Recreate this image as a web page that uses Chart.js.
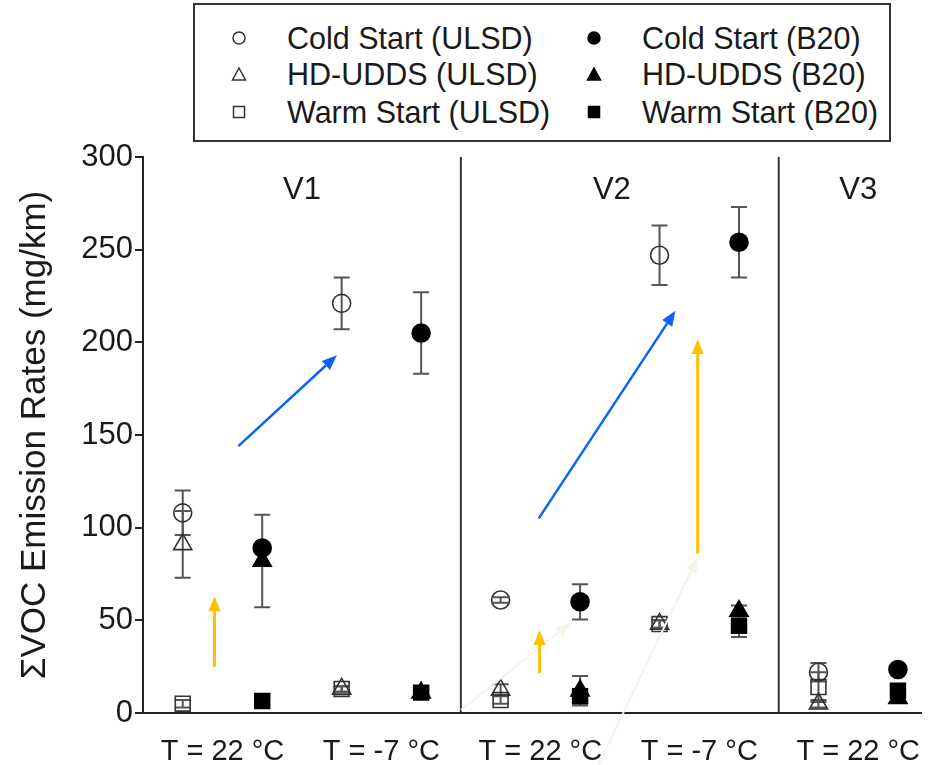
<!DOCTYPE html>
<html>
<head>
<meta charset="utf-8">
<title>VOC emission rates</title>
<script src="https://cdn.jsdelivr.net/npm/chart.js@4.4.1/dist/chart.umd.min.js"></script>
<style>
  body { margin: 0; background: #fff; font-family: "Liberation Sans", Arial, sans-serif; }
  #wrap { position: relative; width: 935px; height: 765px; }
  #legend { position: absolute; left: 193px; top: 3px; width: 694px; height: 135px; border: 2px solid #333; background: #fff; }
  .item { position: absolute; font-size: 30.5px; color: #1a1a1a; line-height: 34px; white-space: nowrap; }
  .item svg { position: absolute; left: -56px; top: 9px; }
</style>
</head>
<body>
<div id="wrap">
  <canvas id="vocChart" width="935" height="765"></canvas>
  <div id="legend"></div>
</div>
<script>
// test conditions (x groups), two fuels per group: ULSD then B20
const conditions = ['T = 22 °C', 'T = -7 °C', 'T = 22 °C', 'T = -7 °C', 'T = 22 °C'];
const vehicles = ['V1', 'V2', 'V3'];
const vehicleCenters = [1.5, 5.4, 8.5];
const panelBreaks = [3.5, 7.5];
const yTicks = [0, 50, 100, 150, 200, 250, 300];

// values (mg/km) per condition group, and +/- error
const coldULSD    = [108, 221, 61, 247, 22];
const coldULSDErr = [12, 14, 1.5, 16, 5];
const coldB20     = [89, 205, 60, 254, 23.5];
const coldB20Err  = [2, 22, 9.5, 19, 1.5];
const hdULSD      = [91, 13, 12.5, 48, 5];
const hdULSDErr   = [18, 1.5, 3, 2, 2];
const hdB20       = [82, 11, 12, 55, 8];
const hdB20Err    = [25, 1.5, 8, 3, 2];
const warmULSD    = [5, 13, 7, 48, 14];
const warmULSDErr = [2, 1.5, 2, 2, 8];
const warmB20     = [6.5, 11, 9, 47, 12];
const warmB20Err  = [2, 1.5, 3, 6, 3];

// hand-drawn arrows on the original figure, in data units [x0, y0, x1, y1]
const blueArrows = [[0.70, 144, 1.94, 193], [4.48, 105, 6.20, 217]];
const yellowArrows = [[0.40, 25, 0.40, 63], [4.49, 21.6, 4.49, 44.8], [6.48, 86, 6.48, 201.8]];
const faintArrows = [[3.50, 1.6, 4.88, 48.6], [5.23, -28, 6.48, 84]];

function series(label, values, errors, fuel, style, filled, radius) {
    return {
        label: label,
        data: values.map((v, g) => ({ x: g * 2 + fuel, y: v })),
        errors: errors,
        pointStyle: style,
        pointRadius: radius,
        pointHoverRadius: radius,
        backgroundColor: filled ? '#000' : 'rgba(255,255,255,0)',
        borderColor: filled ? '#000' : '#333',
        borderWidth: 1.6,
        showLine: false
    };
}

const datasets = [
    series('Cold Start (ULSD)', coldULSD, coldULSDErr, 0, 'circle', false, 9),
    series('Cold Start (B20)', coldB20, coldB20Err, 1, 'circle', true, 9),
    series('HD-UDDS (ULSD)', hdULSD, hdULSDErr, 0, 'triangle', false, 10.5),
    series('HD-UDDS (B20)', hdB20, hdB20Err, 1, 'triangle', true, 10.5),
    series('Warm Start (ULSD)', warmULSD, warmULSDErr, 0, 'rect', false, 10.5),
    series('Warm Start (B20)', warmB20, warmB20Err, 1, 'rect', true, 10.5)
];

function drawArrow(ctx, x0, y0, x1, y1, color, width) {
    const ang = Math.atan2(y1 - y0, x1 - x0);
    const len = 15, half = 6;
    const bx = x1 - Math.cos(ang) * len, by = y1 - Math.sin(ang) * len;
    ctx.strokeStyle = color;
    ctx.fillStyle = color;
    ctx.lineWidth = width;
    ctx.beginPath();
    ctx.moveTo(x0, y0);
    ctx.lineTo(bx, by);
    ctx.stroke();
    ctx.beginPath();
    ctx.moveTo(x1, y1);
    ctx.lineTo(bx + Math.sin(ang) * half, by - Math.cos(ang) * half);
    ctx.lineTo(bx - Math.sin(ang) * half, by + Math.cos(ang) * half);
    ctx.closePath();
    ctx.fill();
}

const decor = {
    id: 'decor',
    beforeDatasetsDraw(chart) {
        const { ctx, chartArea, scales: { x, y } } = chart;
        ctx.save();
        ctx.strokeStyle = '#333';
        ctx.lineWidth = 2;
        panelBreaks.forEach(b => {
            const px = x.getPixelForValue(b);
            ctx.beginPath();
            ctx.moveTo(px, chartArea.top);
            ctx.lineTo(px, chartArea.bottom);
            ctx.stroke();
        });
        // error bars
        ctx.strokeStyle = '#555';
        ctx.lineWidth = 2;
        chart.data.datasets.forEach(ds => {
            ds.data.forEach((p, i) => {
                const e = ds.errors[i];
                if (!e) return;
                const px = x.getPixelForValue(p.x);
                const top = y.getPixelForValue(p.y + e);
                const bot = y.getPixelForValue(Math.max(p.y - e, 0));
                ctx.beginPath();
                ctx.moveTo(px, top); ctx.lineTo(px, bot);
                ctx.moveTo(px - 8, top); ctx.lineTo(px + 8, top);
                ctx.moveTo(px - 8, bot); ctx.lineTo(px + 8, bot);
                ctx.stroke();
            });
        });
        ctx.restore();
    },
    afterDatasetsDraw(chart) {
        const { ctx, scales: { x, y } } = chart;
        ctx.save();
        ctx.fillStyle = '#1a1a1a';
        ctx.font = '31px "Liberation Sans", Arial, sans-serif';
        ctx.textAlign = 'center';
        ctx.textBaseline = 'middle';
        vehicles.forEach((v, i) => {
            ctx.fillText(v, x.getPixelForValue(vehicleCenters[i]), y.getPixelForValue(282));
        });
        ctx.restore();
    },
    afterDraw(chart) {
        const { ctx, scales: { x, y } } = chart;
        ctx.save();
        const px = a => [x.getPixelForValue(a[0]), y.getPixelForValue(a[1]), x.getPixelForValue(a[2]), y.getPixelForValue(a[3])];
        faintArrows.forEach(a => drawArrow(ctx, ...px(a), '#f4f4e8', 2));
        blueArrows.forEach(a => drawArrow(ctx, ...px(a), '#0a64f5', 2.5));
        yellowArrows.forEach(a => drawArrow(ctx, ...px(a), '#ffc000', 3));
        ctx.restore();
    }
};

const ctx = document.getElementById('vocChart').getContext('2d');
const vocChart = new Chart(ctx, {
    type: 'scatter',
    data: { datasets: datasets },
    options: {
        responsive: false,
        animation: false,
        layout: { padding: { top: 157, left: 0, right: 0, bottom: 0 } },
        plugins: { legend: { display: false }, tooltip: { enabled: false } },
        scales: {
            x: {
                type: 'linear',
                min: -0.5,
                max: 9.3,
                grid: { display: false },
                border: { display: true, color: '#222', width: 2 },
                afterBuildTicks: s => { s.ticks = conditions.map((c, i) => ({ value: i * 2 + 0.5 })); },
                afterFit: s => { s.height = 52; },
                ticks: {
                    autoSkip: false,
                    maxRotation: 0,
                    padding: 14,
                    color: '#1a1a1a',
                    font: { size: 29, family: '"Liberation Sans", Arial, sans-serif' },
                    callback: (v, i) => conditions[i]
                }
            },
            y: {
                min: 0,
                max: 300,
                afterBuildTicks: s => { s.ticks = yTicks.map(v => ({ value: v })); },
                afterFit: s => { s.width = 143; },
                grid: { drawOnChartArea: false, tickLength: 8, color: '#222', lineWidth: 2 },
                border: { display: true, color: '#222', width: 2 },
                ticks: {
                    padding: 2,
                    color: '#1a1a1a',
                    font: { size: 31, family: '"Liberation Sans", Arial, sans-serif' }
                },
                title: {
                    display: true,
                    text: 'ΣVOC Emission Rates (mg/km)',
                    color: '#1a1a1a',
                    font: { size: 35, family: '"Liberation Sans", Arial, sans-serif' },
                    padding: { top: 14, bottom: 0 }
                }
            }
        }
    },
    plugins: [decor]
});

// legend: two columns (ULSD open, B20 filled), three rows
const markerSvg = (style, filled) => {
    const fill = filled ? '#000' : '#fff';
    const stroke = filled ? '#000' : '#333';
    let shape = '';
    if (style === 'circle') shape = `<circle cx="8" cy="8" r="6" fill="${fill}" stroke="${stroke}" stroke-width="1.5"/>`;
    if (style === 'triangle') shape = `<polygon points="8,2 14.5,14 1.5,14" fill="${fill}" stroke="${stroke}" stroke-width="1.5"/>`;
    if (style === 'rect') shape = `<rect x="2.5" y="2.5" width="11" height="11" fill="${fill}" stroke="${stroke}" stroke-width="1.5"/>`;
    return `<svg width="16" height="16">${shape}</svg>`;
};
const legendRows = [16, 52, 90];
const legendCols = [92, 447];
const legend = document.getElementById('legend');
datasets.forEach((ds, i) => {
    const item = document.createElement('div');
    item.className = 'item';
    item.style.left = legendCols[i % 2] + 'px';
    item.style.top = legendRows[Math.floor(i / 2)] + 'px';
    item.innerHTML = markerSvg(ds.pointStyle, i % 2 === 1) + ds.label;
    legend.appendChild(item);
});
</script>
</body>
</html>
